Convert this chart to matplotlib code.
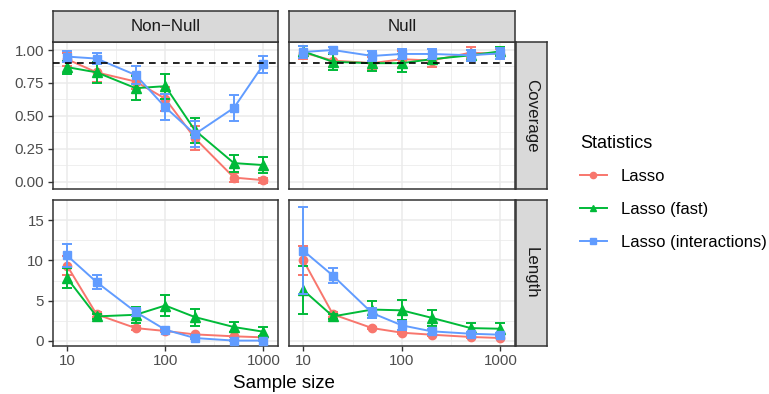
import matplotlib
matplotlib.use("Agg")
import matplotlib.pyplot as plt
from matplotlib.lines import Line2D

plt.rcParams['font.family'] = ['Liberation Sans', 'DejaVu Sans']

# ---------------- data ----------------
sample_size = [10, 20, 50, 100, 200, 500, 1000]
methods = ["Lasso", "Lasso (fast)", "Lasso (interactions)"]
columns = ["Non\u2212Null", "Null"]
rows = ["Coverage", "Length"]
x_ticks = [10, 100, 1000]
cov_ticks = [0.00, 0.25, 0.50, 0.75, 1.00]
cov_tick_labels = ["0.00", "0.25", "0.50", "0.75", "1.00"]
len_ticks = [0, 5, 10, 15]
len_tick_labels = ["0", "5", "10", "15"]
target_coverage = 0.9

# Coverage, Non-Null
cov_nn_lasso = [0.93, 0.83, 0.76, 0.63, 0.33, 0.03, 0.01]
cov_nn_lasso_err = [0.05, 0.07, 0.06, 0.09, 0.09, 0.034, 0.018]
cov_nn_fast = [0.87, 0.83, 0.71, 0.725, 0.39, 0.14, 0.125]
cov_nn_fast_err = [0.05, 0.08, 0.09, 0.095, 0.095, 0.065, 0.06]
cov_nn_inter = [0.95, 0.935, 0.81, 0.565, 0.36, 0.56, 0.89]
cov_nn_inter_err = [0.04, 0.045, 0.07, 0.10, 0.10, 0.10, 0.065]

# Coverage, Null
cov_n_lasso = [0.98, 0.92, 0.90, 0.93, 0.92, 0.98, 0.97]
cov_n_lasso_err = [0.05, 0.05, 0.05, 0.06, 0.05, 0.04, 0.04]
cov_n_fast = [0.99, 0.91, 0.90, 0.90, 0.93, 0.96, 0.99]
cov_n_fast_err = [0.04, 0.06, 0.06, 0.07, 0.04, 0.04, 0.03]
cov_n_inter = [0.985, 1.0, 0.955, 0.97, 0.97, 0.96, 0.975]
cov_n_inter_err = [0.045, 0.02, 0.04, 0.035, 0.035, 0.04, 0.04]

# Length, Non-Null
len_nn_lasso = [9.35, 3.3, 1.6, 1.24, 0.82, 0.58, 0.45]
len_nn_lasso_err = [1.2, 0.3, 0.2, 0.15, 0.1, 0.08, 0.05]
len_nn_fast = [7.8, 3.05, 3.25, 4.4, 2.97, 1.73, 1.15]
len_nn_fast_err = [1.2, 0.3, 1.0, 1.3, 1.05, 0.6, 0.55]
len_nn_inter = [10.6, 7.3, 3.6, 1.4, 0.37, 0.05, 0.05]
len_nn_inter_err = [1.4, 0.85, 0.5, 0.2, 0.1, 0.03, 0.03]

# Length, Null
len_n_lasso = [10.0, 3.3, 1.6, 1.03, 0.78, 0.5, 0.37]
len_n_lasso_err = [1.8, 0.3, 0.15, 0.12, 0.1, 0.08, 0.06]
len_n_fast = [6.3, 3.05, 3.9, 3.8, 2.88, 1.6, 1.52]
len_n_fast_err = [3.0, 0.3, 1.1, 1.25, 1.0, 0.65, 0.65]
len_n_inter = [11.2, 8.1, 3.46, 1.94, 1.2, 0.9, 0.78]
len_n_inter_err = [5.4, 0.95, 0.6, 0.6, 0.3, 0.2, 0.2]

colors = ["#F8766D", "#00BA38", "#619CFF"]
markers = ["o", "^", "s"]

panels = {
    (0, 0): [(cov_nn_lasso, cov_nn_lasso_err), (cov_nn_fast, cov_nn_fast_err), (cov_nn_inter, cov_nn_inter_err)],
    (0, 1): [(cov_n_lasso, cov_n_lasso_err), (cov_n_fast, cov_n_fast_err), (cov_n_inter, cov_n_inter_err)],
    (1, 0): [(len_nn_lasso, len_nn_lasso_err), (len_nn_fast, len_nn_fast_err), (len_nn_inter, len_nn_inter_err)],
    (1, 1): [(len_n_lasso, len_n_lasso_err), (len_n_fast, len_n_fast_err), (len_n_inter, len_n_inter_err)],
}

# ---------------- layout ----------------
W, H = 769, 394
fig = plt.figure(figsize=(W / 100, H / 100), dpi=100)


def rect(x0, x1, y0, y1):
    return [x0 / W, 1 - y1 / H, (x1 - x0) / W, (y1 - y0) / H]


col_x = [(52.5, 278.0), (288.7, 515.0)]
row_y = [(42.0, 189.0), (200.0, 346.0)]
ylims = [(-0.057, 1.061), (-0.62, 17.48)]
xlim = (10 ** 0.852, 10 ** 3.148)
grid_c = "#EBEBEB"
border_c = "#333333"
strip_fill = "#D9D9D9"

for r in range(2):
    for c in range(2):
        x0, x1 = col_x[c]
        y0, y1 = row_y[r]
        ax = fig.add_axes(rect(x0, x1, y0, y1))
        ax.set_xscale("log")
        ax.set_xlim(*xlim)
        ax.set_ylim(*ylims[r])
        # grid
        for gx in [10 ** 1.5, 10 ** 2.5]:
            ax.axvline(gx, color=grid_c, lw=0.55, zorder=0)
        for gx in x_ticks:
            ax.axvline(gx, color=grid_c, lw=1.1, zorder=0)
        if r == 0:
            major = cov_ticks
            minor = [0.125, 0.375, 0.625, 0.875]
        else:
            major = len_ticks
            minor = [2.5, 7.5, 12.5]
        for gy in minor:
            ax.axhline(gy, color=grid_c, lw=0.55, zorder=0)
        for gy in major:
            ax.axhline(gy, color=grid_c, lw=1.1, zorder=0)

        for k, (vals, errs) in enumerate(panels[(r, c)]):
            ax.errorbar(sample_size, vals, yerr=errs, color=colors[k], marker=markers[k],
                        markersize=6 if k != 1 else 6.5, lw=1.4, elinewidth=1.4, capsize=3.8,
                        capthick=1.4, zorder=3 + k)
        if r == 0:
            ax.axhline(target_coverage, color="black", lw=1.2, ls=(0, (4, 3.2)), zorder=10)

        ax.minorticks_off()
        ax.set_xticks(x_ticks)
        ax.set_yticks(major)
        if r == 1:
            ax.set_xticklabels([str(v) for v in x_ticks])
        else:
            ax.set_xticklabels([])
        if c == 0:
            ax.set_yticklabels(cov_tick_labels if r == 0 else len_tick_labels)
        else:
            ax.set_yticklabels([])
        ax.tick_params(axis="x", bottom=(r == 1), length=3.5, width=1.0, color=border_c,
                       labelsize=10.8, labelcolor="#4D4D4D", pad=2.5)
        ax.tick_params(axis="y", left=(c == 0), length=3.5, width=1.0, color=border_c,
                       labelsize=10.8, labelcolor="#4D4D4D", pad=2.5)
        for sp in ax.spines.values():
            sp.set_color(border_c)
            sp.set_linewidth(1.1)

# top strips
for c in range(2):
    x0, x1 = col_x[c]
    sax = fig.add_axes(rect(x0, x1, 10.5, 42.0))
    sax.set_xticks([]); sax.set_yticks([])
    sax.set_facecolor(strip_fill)
    for sp in sax.spines.values():
        sp.set_color(border_c); sp.set_linewidth(1.1)
    sax.text(0.5, 0.5, columns[c], ha="center", va="center", fontsize=12.2,
             color="#1A1A1A", transform=sax.transAxes)

# right strips
for r in range(2):
    y0, y1 = row_y[r]
    sax = fig.add_axes(rect(516.0, 547.0, y0, y1))
    sax.set_xticks([]); sax.set_yticks([])
    sax.set_facecolor(strip_fill)
    for sp in sax.spines.values():
        sp.set_color(border_c); sp.set_linewidth(1.1)
    sax.text(0.5, 0.5, rows[r], ha="center", va="center", fontsize=12.2, rotation=-90,
             color="#1A1A1A", transform=sax.transAxes)

# axis title
fig.text(283.7 / W, 1 - 383 / H, "Sample size", ha="center", va="center", fontsize=13.5, color="black")

# legend
handles = [Line2D([0], [0], color=colors[k], marker=markers[k], lw=1.4, markersize=4.5)
           for k in range(3)]
leg = fig.legend(handles, methods, loc="upper left", bbox_to_anchor=(580 / W, 1 - 134.5 / H),
                 frameon=False, title="Statistics", fontsize=12, title_fontsize=13,
                 handlelength=1.6, handletextpad=0.85, labelspacing=1.07, borderpad=0,
                 borderaxespad=0)
leg._legend_box.align = "left"

fig.savefig("out.png", dpi=100)
